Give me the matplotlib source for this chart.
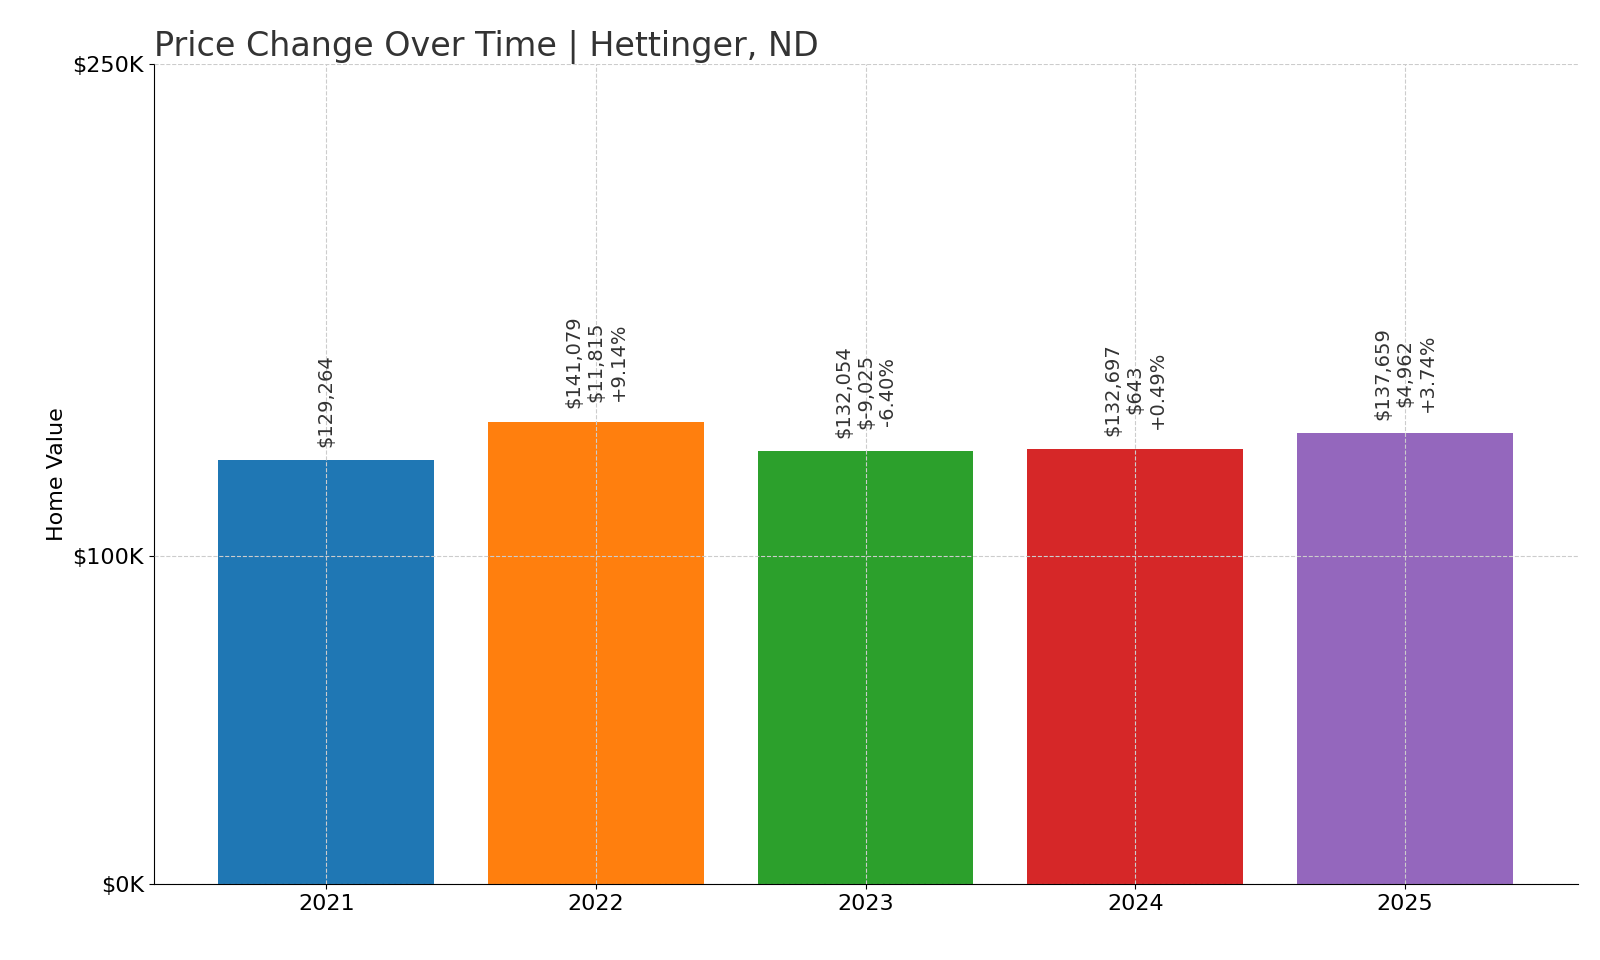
import matplotlib
matplotlib.use("Agg")
import matplotlib.pyplot as plt

years = ["2021", "2022", "2023", "2024", "2025"]
values = [129264, 141079, 132054, 132697, 137659]
changes = [None, "$11,815", "$-9,025", "$643", "$4,962"]
pcts = [None, "+9.14%", "-6.40%", "+0.49%", "+3.74%"]
colors = ["#1f77b4", "#ff7f0e", "#2ca02c", "#d62728", "#9467bd"]

fig = plt.figure(figsize=(16, 9.6), dpi=100)
ax = fig.add_axes([0.096, 0.079, 0.89, 0.854])
x = range(len(years))
ax.bar(x, values, width=0.8, color=colors, zorder=2)
for i, v in enumerate(values):
    lines = [f"${v:,}"]
    if changes[i]:
        lines += [changes[i], pcts[i]]
    ax.text(i, v + 4000, "\n".join(lines), rotation=90, ha="center", va="bottom",
            fontsize=14, color="#333333", linespacing=1.2, zorder=3)
ax.set_xticks(list(x))
ax.set_xticklabels(years, fontsize=16)
ax.set_ylim(0, 250000)
ax.set_xlim(-0.64, 4.64)
ax.set_yticks([0, 100000, 250000])
ax.set_yticklabels(["$0K", "$100K", "$250K"], fontsize=16)
ax.set_ylabel("Home Value", fontsize=16)
ax.set_title("Price Change Over Time | Hettinger, ND", loc="left", fontsize=24, color="#333333")
ax.grid(True, linestyle="--", color="#cccccc", linewidth=0.8, zorder=0)
ax.set_axisbelow(False)
for s in ["top", "right"]:
    ax.spines[s].set_visible(False)
fig.savefig("out.png", dpi=100)
